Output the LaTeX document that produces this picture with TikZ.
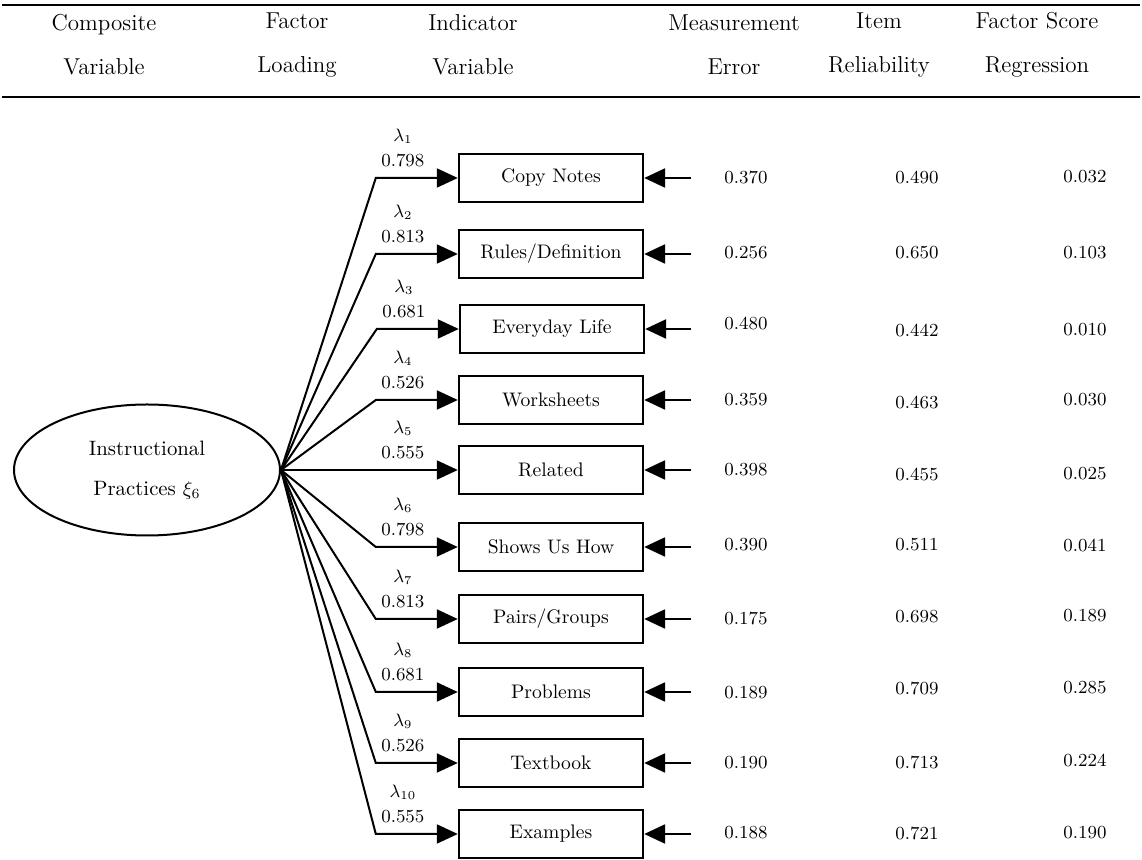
\documentclass[tikz,border=0pt]{standalone}
\usepackage{tikz}
\usetikzlibrary{shapes.geometric, arrows.meta, positioning}
\tikzstyle{latent} = [ellipse, 
minimum width=133pt, 
minimum height=65.5pt, 
inner sep=0pt, 
align=center, 
font=\fontsize{10.4}{20}\selectfont, 
draw=black, line width=1pt]
\tikzstyle{indicator} = [rectangle, 
minimum width=92pt, 
minimum height=24pt, 
inner sep=0pt, 
font=\fontsize{9.8}{12}\selectfont, 
draw=black, line width=1.2pt]
\tikzstyle{header} = [align=center, font=\fontsize{11.5}{22}\selectfont]
\tikzstyle{numval} = [font=\fontsize{9.2}{11}\selectfont]
\tikzstyle{coef} = [pos=0.33, above=4pt, inner sep=1pt, align=center, 
font=\fontsize{9.2}{12.5}\selectfont]
\tikzstyle{loading} = [line width=1pt, -{Triangle[length=10.5pt, width=9.5pt]}]
\tikzstyle{errarrow} = [line width=1.2pt, -{Triangle[length=10.5pt, width=9.5pt]}]

\begin{document}
\begin{tikzpicture}[x=0.5pt, y=-0.5pt]
        \useasboundingbox (0,0) rectangle (1142,860);

        % --- Encabezado ---
        \draw [line width=1.2pt] (2,5) -- (1140,5);
        \draw [line width=1.2pt] (2,97) -- (1140,97);
        \node (hcomp) [header] at (104,45) {Composite\\Variable};
        \node (hload) [header] at (297,45) {Factor\\Loading};
        \node (hind) [header] at (473,45) {Indicator\\Variable};
        \node (herr) [header] at (734,45) {Measurement\\Error};
        \node (hrel) [header] at (879,45) {Item\\Reliability};
        \node (hfs) [header] at (1037,45) {Factor Score\\Regression};

        % --- Variable latente ---
        \node (instr) [latent] at (147,470) {Instructional\\Practices $\xi_6$};

        % --- Indicadores ---
        \node (copy) [indicator] at (551,178) {Copy Notes};
        \node (rules) [indicator] at (551,254) {Rules/Definition};
        \node (everyday) [indicator] at (552,329) {Everyday Life};
        \node (worksheets) [indicator] at (551,400) {Worksheets};
        \node (related) [indicator] at (551,470) {Related};
        \node (shows) [indicator] at (551,547) {Shows Us How};
        \node (pairs) [indicator] at (551,619) {Pairs/Groups};
        \node (problems) [indicator] at (551,692) {Problems};
        \node (textbook) [indicator] at (551,763) {Textbook};
        \node (examples) [indicator] at (551,834) {Examples};

        % --- Cargas factoriales ---
        \draw [loading] (instr.east) -- ([xshift=-41pt]copy.west) -- node[coef] {$\lambda_{1}$\\0.798} (copy.west);
        \draw [loading] (instr.east) -- ([xshift=-41pt]rules.west) -- node[coef] {$\lambda_{2}$\\0.813} (rules.west);
        \draw [loading] (instr.east) -- ([xshift=-41pt]everyday.west) -- node[coef] {$\lambda_{3}$\\0.681} (everyday.west);
        \draw [loading] (instr.east) -- ([xshift=-41pt]worksheets.west) -- node[coef] {$\lambda_{4}$\\0.526} (worksheets.west);
        \draw [loading] (instr.east) -- ([xshift=-41pt]related.west) -- node[coef] {$\lambda_{5}$\\0.555} (related.west);
        \draw [loading] (instr.east) -- ([xshift=-41pt]shows.west) -- node[coef] {$\lambda_{6}$\\0.798} (shows.west);
        \draw [loading] (instr.east) -- ([xshift=-41pt]pairs.west) -- node[coef] {$\lambda_{7}$\\0.813} (pairs.west);
        \draw [loading] (instr.east) -- ([xshift=-41pt]problems.west) -- node[coef] {$\lambda_{8}$\\0.681} (problems.west);
        \draw [loading] (instr.east) -- ([xshift=-41pt]textbook.west) -- node[coef] {$\lambda_{9}$\\0.526} (textbook.west);
        \draw [loading] (instr.east) -- ([xshift=-41pt]examples.west) -- node[coef] {$\lambda_{10}$\\0.555} (examples.west);

        % --- Errores de medida ---
        \draw [errarrow] ([xshift=23.5pt]copy.east) -- (copy.east);
        \draw [errarrow] ([xshift=23.5pt]rules.east) -- (rules.east);
        \draw [errarrow] ([xshift=23pt]everyday.east) -- (everyday.east);
        \draw [errarrow] ([xshift=23.5pt]worksheets.east) -- (worksheets.east);
        \draw [errarrow] ([xshift=23.5pt]related.east) -- (related.east);
        \draw [errarrow] ([xshift=23.5pt]shows.east) -- (shows.east);
        \draw [errarrow] ([xshift=23.5pt]pairs.east) -- (pairs.east);
        \draw [errarrow] ([xshift=23.5pt]problems.east) -- (problems.east);
        \draw [errarrow] ([xshift=23.5pt]textbook.east) -- (textbook.east);
        \draw [errarrow] ([xshift=23.5pt]examples.east) -- (examples.east);

        % --- Valores ---
        \node (me1) [numval] at (746,177) {0.370};
        \node (ir1) [numval] at (917,177) {0.490};
        \node (fs1) [numval] at (1085,177) {0.032};
        \node (me2) [numval] at (746,253) {0.256};
        \node (ir2) [numval] at (917,253) {0.650};
        \node (fs2) [numval] at (1085,253) {0.103};
        \node (me3) [numval] at (746,323) {0.480};
        \node (ir3) [numval] at (917,330) {0.442};
        \node (fs3) [numval] at (1085,330) {0.010};
        \node (me4) [numval] at (746,400) {0.359};
        \node (ir4) [numval] at (917,402) {0.463};
        \node (fs4) [numval] at (1085,400) {0.030};
        \node (me5) [numval] at (746,470) {0.398};
        \node (ir5) [numval] at (917,474) {0.455};
        \node (fs5) [numval] at (1085,474) {0.025};
        \node (me6) [numval] at (746,545) {0.390};
        \node (ir6) [numval] at (917,545) {0.511};
        \node (fs6) [numval] at (1085,545) {0.041};
        \node (me7) [numval] at (746,618) {0.175};
        \node (ir7) [numval] at (917,617) {0.698};
        \node (fs7) [numval] at (1085,616) {0.189};
        \node (me8) [numval] at (746,693) {0.189};
        \node (ir8) [numval] at (917,688) {0.709};
        \node (fs8) [numval] at (1085,688) {0.285};
        \node (me9) [numval] at (746,763) {0.190};
        \node (ir9) [numval] at (917,762) {0.713};
        \node (fs9) [numval] at (1085,760) {0.224};
        \node (me10) [numval] at (746,833) {0.188};
        \node (ir10) [numval] at (917,833) {0.721};
        \node (fs10) [numval] at (1085,833) {0.190};

\end{tikzpicture}
\end{document}
